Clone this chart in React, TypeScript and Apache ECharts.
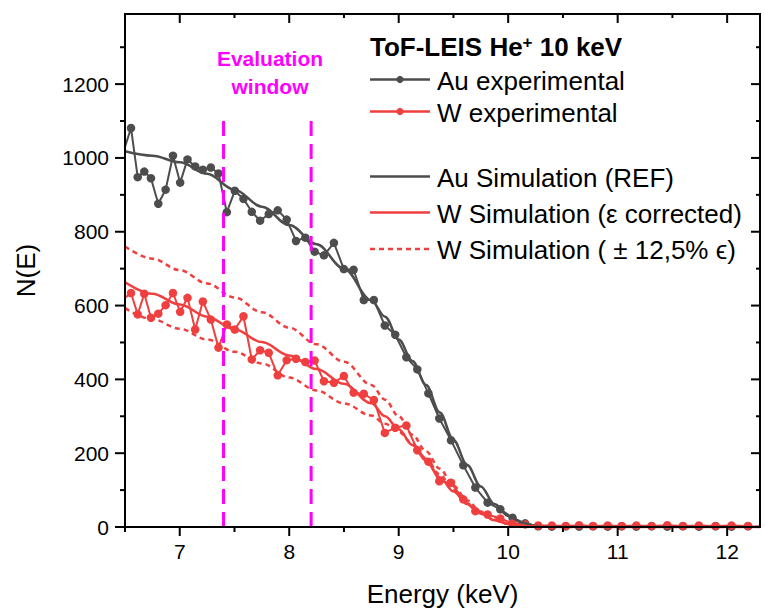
import { useEffect, useRef } from "react";
import * as echarts from "echarts";

const FONT = '"Liberation Sans", Arial, Helvetica, sans-serif';
const AU_COLOR = "#4d4d4d";
const W_COLOR = "#ef3f3f";
const WINDOW_COLOR = "#ff00ff";
const FRAME_COLOR = "#010101";

// Measured spectra: energy channels (keV) shared by both targets
const expEnergy = [
  6.495, 6.555, 6.616, 6.676, 6.737, 6.804, 6.871, 6.938, 7.004, 7.071, 7.141, 7.211, 7.284,
  7.354, 7.43, 7.503, 7.582, 7.658, 7.734, 7.813, 7.895, 7.977, 8.062, 8.147, 8.232, 8.317,
  8.408, 8.499, 8.588, 8.681, 8.773, 8.873, 8.968, 9.07, 9.17, 9.271, 9.371, 9.478, 9.59,
  9.7, 9.812, 9.928, 10.04, 10.155, 10.274, 10.399, 10.526, 10.648, 10.775, 10.909, 11.037,
  11.17, 11.31, 11.453, 11.596, 11.742, 11.894, 12.04, 12.191,
];
const auExperimental = [
  1025, 1081, 948, 963, 945, 876, 914, 1006, 933, 996, 977, 968, 974, 958, 853, 911, 889, 854,
  830, 848, 858, 833, 775, 784, 746, 736, 770, 699, 697, 615, 615, 546, 521, 460, 427, 362, 294,
  235, 167, 107, 66, 48, 25, 10, 2, 1, 2, 1, 2, 1, 2, 1, 2, 1, 2, 1, 2, 1, 2,
];
const wExperimental = [
  620, 634, 576, 632, 567, 578, 601, 634, 583, 621, 535, 611, 562, 486, 549, 535, 571, 454, 479,
  472, 411, 452, 456, 447, 451, 395, 391, 409, 364, 361, 344, 255, 269, 275, 208, 177, 124, 120,
  75, 43, 34, 23, 10, 7, 4, 4, 3, 5, 3, 4, 3, 4, 3, 5, 3, 4, 3, 4, 3,
];

// Simulated spectra
const simEnergy = [
  6.5, 6.75, 7.0, 7.25, 7.5, 7.75, 8.0, 8.25, 8.5, 8.75, 8.875, 9.0, 9.125, 9.25, 9.375, 9.5,
  9.625, 9.75, 9.875, 10.0, 10.125, 10.25, 10.5, 11.0, 11.5, 12.0, 12.3,
];
const auSimulation = [
  1018, 1006, 988, 957, 914, 868, 818, 766, 700, 614, 570, 508, 450, 385, 310, 236, 168, 110, 62,
  30, 12, 3, 0, 0, 0, 0, 0,
];
const wSimulation = [
  663, 632, 603, 570, 536, 501, 465, 428, 388, 335, 300, 265, 222, 180, 135, 96, 62, 36, 18, 8,
  3, 1, 0, 0, 0, 0, 0,
];
const wSimulationPlus = [
  760, 727, 696, 660, 622, 582, 540, 495, 448, 385, 345, 300, 250, 205, 158, 112, 72, 42, 20, 9,
  3, 1, 0, 0, 0, 0, 0,
];
const wSimulationMinus = [
  593, 563, 537, 508, 475, 443, 405, 370, 335, 302, 280, 258, 226, 185, 142, 100, 64, 38, 19, 8,
  3, 1, 0, 0, 0, 0, 0,
];

// Evaluation window boundaries (keV) and the height the markers reach
const evaluationWindow = [7.4, 8.2];
const windowTop = 1100;

// Axis ticks
const xMajorTicks = [7, 8, 9, 10, 11, 12];
const xMinorTicks = [6.5, 7.5, 8.5, 9.5, 10.5, 11.5];
const yMajorTicks = [0, 200, 400, 600, 800, 1000, 1200];
const yMinorTicks = [100, 300, 500, 700, 900, 1100, 1300];

const X_MIN = 6.5;
const X_MAX = 12.3;
const Y_MIN = 0;
const Y_MAX = 1390;

const zip = (xs: number[], ys: number[]) => xs.map((x, i) => [x, ys[i]]);

function buildOption(): any {
  const plainNumber = (v: number) => String(v);

  const experimental = (name: string, ys: number[], color: string, z: number) => ({
    name,
    type: "line",
    data: zip(expEnergy, ys),
    symbol: "circle",
    symbolSize: 8.5,
    showSymbol: true,
    lineStyle: { color, width: 2 },
    itemStyle: { color, borderWidth: 0 },
    z,
    clip: true,
  });

  const simulation = (name: string, ys: number[], color: string, dashed: boolean, z: number) => ({
    name,
    type: "line",
    data: zip(simEnergy, ys),
    showSymbol: false,
    symbol: "none",
    smooth: 0.35,
    smoothMonotone: "x",
    lineStyle: { color, width: 2.5, type: dashed ? [5, 4] : "solid" },
    z,
    clip: true,
  });

  const windowLines = evaluationWindow.map((e) => ({
    type: "line",
    data: [
      [e, windowTop],
      [e, 0],
    ],
    showSymbol: false,
    symbol: "none",
    lineStyle: { color: WINDOW_COLOR, width: 3, type: [15, 8] },
    z: 20,
    clip: true,
  }));

  return {
    animation: false,
    backgroundColor: "#fff",
    textStyle: { fontFamily: FONT },
    grid: { left: 125, top: 14, width: 635, height: 514 },
    xAxis: {
      type: "value",
      min: X_MIN,
      max: X_MAX,
      splitLine: { show: false },
      axisLine: { show: false, onZero: false },
      axisTick: { show: false },
      axisLabel: {
        show: true,
        customValues: xMajorTicks,
        formatter: plainNumber,
        fontSize: 21,
        fontFamily: FONT,
        color: "#000",
        margin: 14,
      },
      name: "Energy (keV)",
      nameLocation: "middle",
      nameGap: 54,
      nameTextStyle: { fontSize: 26, fontFamily: FONT, color: "#000" },
    },
    yAxis: {
      type: "value",
      min: Y_MIN,
      max: Y_MAX,
      splitLine: { show: false },
      axisLine: { show: false, onZero: false },
      axisTick: { show: false },
      axisLabel: {
        show: true,
        customValues: yMajorTicks,
        formatter: plainNumber,
        fontSize: 21,
        fontFamily: FONT,
        color: "#000",
        margin: 16,
      },
      name: "N(E)",
      nameLocation: "middle",
      nameGap: 86,
      nameTextStyle: { fontSize: 26, fontFamily: FONT, color: "#000" },
    },
    series: [
      experimental("Au experimental", auExperimental, AU_COLOR, 2),
      experimental("W experimental", wExperimental, W_COLOR, 3),
      simulation("Au Simulation (REF)", auSimulation, AU_COLOR, false, 4),
      simulation("W Simulation (ε corrected)", wSimulation, W_COLOR, false, 5),
      simulation("W Simulation (+12,5% ε)", wSimulationPlus, W_COLOR, true, 5),
      simulation("W Simulation (−12,5% ε)", wSimulationMinus, W_COLOR, true, 5),
      ...windowLines,
    ],
  };
}

function legendGraphics(): any[] {
  const row = (y: number, color: string, label: string, marker: boolean, dashed: boolean) => {
    const items: any[] = [
      {
        type: "line",
        shape: { x1: 370, y1: y, x2: 430, y2: y },
        style: { stroke: color, lineWidth: 2.5, lineDash: dashed ? [5, 4] : null },
      },
      {
        type: "text",
        x: 437,
        y: y + 1,
        style: {
          text: label,
          fontSize: 26,
          fontFamily: FONT,
          fill: "#000",
          align: "left",
          verticalAlign: "middle",
        },
      },
    ];
    if (marker) {
      items.push({ type: "circle", shape: { cx: 400, cy: y, r: 3.6 }, style: { fill: color } });
    }
    return items;
  };
  const magentaText = (text: string, y: number) => ({
    type: "text",
    x: 270,
    y,
    style: {
      text,
      fontSize: 21,
      fontWeight: "bold",
      fontFamily: FONT,
      fill: WINDOW_COLOR,
      align: "center",
      verticalAlign: "middle",
    },
  });
  return [
    {
      type: "text",
      x: 370,
      y: 47,
      style: {
        text: "{b|ToF-LEIS He}{s|+}{b| 10 keV}",
        align: "left",
        verticalAlign: "middle",
        rich: {
          b: { fontSize: 26, fontWeight: "bold", fontFamily: FONT, fill: "#000" },
          s: { fontSize: 17, fontWeight: "bold", fontFamily: FONT, fill: "#000", verticalAlign: "top" },
        },
      },
    },
    ...row(79.5, AU_COLOR, "Au experimental", true, false),
    ...row(111.5, W_COLOR, "W experimental", true, false),
    ...row(176.5, AU_COLOR, "Au Simulation (REF)", false, false),
    ...row(212.5, W_COLOR, "W Simulation (\u03b5 corrected)", false, false),
    ...row(249, W_COLOR, "W Simulation ( \u00b1 12,5% \u03f5)", false, true),
    magentaText("Evaluation", 58),
    magentaText("window", 86),
  ];
}

// Frame edges as thin filled bars, and Origin-style ticks, all placed through
// the chart's own axis scales: ticks point outward on bottom/left, inward on top/right
function frameGraphics(chart: echarts.ECharts): any[] {
  const px = (x: number, y: number) =>
    chart.convertToPixel({ gridIndex: 0 }, [x, y]) as number[];
  const out: any[] = [];
  const bar = (x: number, y: number, width: number, height: number) =>
    out.push({
      type: "rect",
      z: 100,
      shape: { x, y, width, height },
      style: { fill: FRAME_COLOR },
    });
  const seg = (x1: number, y1: number, x2: number, y2: number) =>
    out.push({
      type: "line",
      z: 100,
      shape: { x1, y1, x2, y2 },
      style: { stroke: FRAME_COLOR, lineWidth: 2 },
    });
  const tl = px(X_MIN, Y_MAX);
  const br = px(X_MAX, Y_MIN);
  const w = br[0] - tl[0];
  const h = br[1] - tl[1];
  bar(tl[0] - 1, tl[1] - 1, w + 2, 2);
  bar(tl[0] - 1, br[1] - 1, w + 2, 2);
  bar(tl[0] - 1, tl[1] - 1, 2, h + 2);
  bar(br[0] - 1, tl[1] - 1, 2, h + 2);

  const xTicks = (values: number[], outLen: number, inLen: number) => {
    for (const v of values) {
      const b = px(v, Y_MIN);
      seg(b[0], b[1], b[0], b[1] + outLen);
      const t = px(v, Y_MAX);
      seg(t[0], t[1], t[0], t[1] + inLen);
    }
  };
  const yTicks = (values: number[], outLen: number, inLen: number) => {
    for (const v of values) {
      const l = px(X_MIN, v);
      seg(l[0], l[1], l[0] - outLen, l[1]);
      const r = px(X_MAX, v);
      seg(r[0], r[1], r[0] - inLen, r[1]);
    }
  };
  xTicks(xMajorTicks, 9, 9);
  xTicks(xMinorTicks, 5, 4);
  yTicks(yMajorTicks, 10, 9);
  yTicks(yMinorTicks, 5, 4);
  return out;
}

export default function App() {
  const ref = useRef<HTMLDivElement>(null);

  useEffect(() => {
    if (!ref.current) return;
    const chart = echarts.init(ref.current, undefined, { renderer: "svg" });
    chart.setOption(buildOption());
    chart.setOption({ graphic: [...legendGraphics(), ...frameGraphics(chart)] });
    return () => chart.dispose();
  }, []);

  return (
    <div
      ref={ref}
      style={{
        position: "fixed",
        left: 0,
        top: 0,
        width: 765,
        height: 612,
        background: "#fff",
      }}
    />
  );
}
